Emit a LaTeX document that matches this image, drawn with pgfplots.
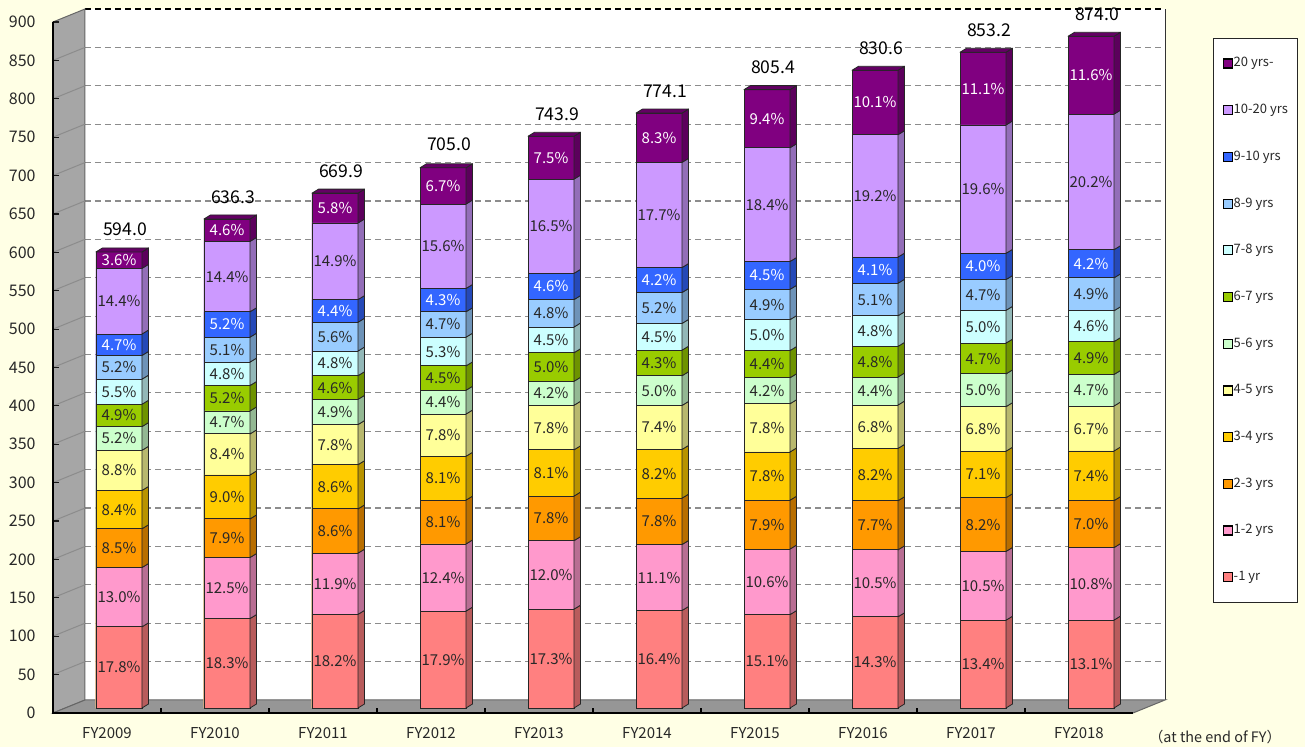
\documentclass[border=0pt]{standalone}
\usepackage{pgfplots}
\pgfplotsset{compat=1.18}
\usepackage{pgfplotstable}
\usepackage{fontspec}
\setmainfont{Noto Sans CJK JP}
\pgfdeclareplotmark{empty}{}

\definecolor{bgc}{RGB}{255,255,229}
\definecolor{wallgray}{RGB}{166,166,166}
\definecolor{floorgray}{RGB}{150,150,150}
\definecolor{cA}{RGB}{255,128,128}
\definecolor{cB}{RGB}{255,153,204}
\definecolor{cC}{RGB}{255,153,0}
\definecolor{cD}{RGB}{255,204,0}
\definecolor{cE}{RGB}{255,255,153}
\definecolor{cF}{RGB}{204,255,204}
\definecolor{cG}{RGB}{153,204,0}
\definecolor{cH}{RGB}{204,255,255}
\definecolor{cI}{RGB}{153,204,255}
\definecolor{cJ}{RGB}{51,102,255}
\definecolor{cK}{RGB}{204,153,255}
\definecolor{cL}{RGB}{128,0,128}
\definecolor{txt}{RGB}{40,40,40}

% x, total (billions), share (%) of each maturity band, bottom (-1 yr) to top (20 yrs-)
\pgfplotstableread{
x total p1 p2 p3 p4 p5 p6 p7 p8 p9 p10 p11 p12
0 594.0 17.8 13.0 8.5 8.4 8.8 5.2 4.9 5.5 5.2 4.7 14.4 3.6
1 636.3 18.3 12.5 7.9 9.0 8.4 4.7 5.2 4.8 5.1 5.2 14.4 4.6
2 669.9 18.2 11.9 8.6 8.6 7.8 4.9 4.6 4.8 5.6 4.4 14.9 5.8
3 705.0 17.9 12.4 8.1 8.1 7.8 4.4 4.5 5.3 4.7 4.3 15.6 6.7
4 743.9 17.3 12.0 7.8 8.1 7.8 4.2 5.0 4.5 4.8 4.6 16.5 7.5
5 774.1 16.4 11.1 7.8 8.2 7.4 5.0 4.3 4.5 5.2 4.2 17.7 8.3
6 805.4 15.1 10.6 7.9 7.8 7.8 4.2 4.4 5.0 4.9 4.5 18.4 9.4
7 830.6 14.3 10.5 7.7 8.2 6.8 4.4 4.8 4.8 5.1 4.1 19.2 10.1
8 853.2 13.4 10.5 8.2 7.1 6.8 5.0 4.7 5.0 4.7 4.0 19.6 11.1
9 874.0 13.1 10.8 7.0 7.4 6.7 4.7 4.9 4.6 4.9 4.2 20.2 11.6
}\data

\pgfplotstablecreatecol[create col/expr={\thisrow{total}*\thisrow{p1}/100}]{h1}\data
\pgfplotstablecreatecol[create col/expr={\thisrow{total}*\thisrow{p2}/100}]{h2}\data
\pgfplotstablecreatecol[create col/expr={\thisrow{total}*\thisrow{p3}/100}]{h3}\data
\pgfplotstablecreatecol[create col/expr={\thisrow{total}*\thisrow{p4}/100}]{h4}\data
\pgfplotstablecreatecol[create col/expr={\thisrow{total}*\thisrow{p5}/100}]{h5}\data
\pgfplotstablecreatecol[create col/expr={\thisrow{total}*\thisrow{p6}/100}]{h6}\data
\pgfplotstablecreatecol[create col/expr={\thisrow{total}*\thisrow{p7}/100}]{h7}\data
\pgfplotstablecreatecol[create col/expr={\thisrow{total}*\thisrow{p8}/100}]{h8}\data
\pgfplotstablecreatecol[create col/expr={\thisrow{total}*\thisrow{p9}/100}]{h9}\data
\pgfplotstablecreatecol[create col/expr={\thisrow{total}*\thisrow{p10}/100}]{h10}\data
\pgfplotstablecreatecol[create col/expr={\thisrow{total}*\thisrow{p11}/100}]{h11}\data
\pgfplotstablecreatecol[create col/expr={\thisrow{total}*\thisrow{p12}/100}]{h12}\data
\pgfplotstablecreatecol[create col/expr={\thisrow{h1}}]{c1}\data
\pgfplotstablecreatecol[create col/expr={\thisrow{c1}+\thisrow{h2}}]{c2}\data
\pgfplotstablecreatecol[create col/expr={\thisrow{c2}+\thisrow{h3}}]{c3}\data
\pgfplotstablecreatecol[create col/expr={\thisrow{c3}+\thisrow{h4}}]{c4}\data
\pgfplotstablecreatecol[create col/expr={\thisrow{c4}+\thisrow{h5}}]{c5}\data
\pgfplotstablecreatecol[create col/expr={\thisrow{c5}+\thisrow{h6}}]{c6}\data
\pgfplotstablecreatecol[create col/expr={\thisrow{c6}+\thisrow{h7}}]{c7}\data
\pgfplotstablecreatecol[create col/expr={\thisrow{c7}+\thisrow{h8}}]{c8}\data
\pgfplotstablecreatecol[create col/expr={\thisrow{c8}+\thisrow{h9}}]{c9}\data
\pgfplotstablecreatecol[create col/expr={\thisrow{c9}+\thisrow{h10}}]{c10}\data
\pgfplotstablecreatecol[create col/expr={\thisrow{c10}+\thisrow{h11}}]{c11}\data
\pgfplotstablecreatecol[create col/expr={\thisrow{c11}+\thisrow{h12}}]{c12}\data

\def\yu{0.383889}
\def\hw{11.5}
\def\dx{3.25}
\def\dy{2}
\newcommand\pctfont{\fontsize{7.5}{8}\selectfont}

% side face of each band (parallelogram right of the front face)
\newcommand{\sidefaces}[2]{%
 \addplot[forget plot, only marks, scatter, mark=empty,
   visualization depends on={\thisrow{h#1} \as \segh},
   scatter/@pre marker code/.code={%
     \pgfmathsetmacro\hh{\segh*\yu}%
     \filldraw[fill=#2!72!black, draw=black!85, line width=0.4pt, line join=round]
       (\hw pt,0pt) -- ({(\hw+\dx)*1pt},\dy pt) -- ({(\hw+\dx)*1pt},{(\dy-\hh)*1pt}) -- (\hw pt,-\hh pt) -- cycle;
   },
   scatter/@post marker code/.code={}]
   table[x=x, y=c#1] {\data};
}
% front face of each band, drawn from 0 up to the cumulative value
\newcommand{\frontbar}[4]{%
 \addplot[ybar, bar width=23pt, bar shift=0pt, fill=#2, draw=black!85, line width=0.45pt,
   legend image code/.code={\draw[fill=#2, draw=black, line width=0.6pt] (0pt,-2.25pt) rectangle (4.5pt,2.25pt);},
   nodes near coords={\pgfplotspointmeta\%}, point meta=explicit symbolic,
   visualization depends on={\thisrow{h#1} \as \segh},
   every node near coord/.append style={anchor=center, yshift={-0.5*\segh*\yu pt}, text=#3, font=\pctfont, inner sep=0pt}]
   table[x=x, y=c#1, meta=p#1] {\data};
 \addlegendentry{#4}
}

\begin{document}
\begin{tikzpicture}
\fill[bgc] (0,0) rectangle (652.5pt,373.5pt);
\begin{axis}[
  at={(32.5pt,19.5pt)}, anchor=south west,
  scale only axis, width=540pt, height=345.5pt,
  xmin=-0.5, xmax=9.5, ymin=0, ymax=900, clip=false,
  axis line style={draw=none}, major tick style={draw=none},
  xtick={0,1,2,3,4,5,6,7,8,9},
  xticklabels={FY2009,FY2010,FY2011,FY2012,FY2013,FY2014,FY2015,FY2016,FY2017,FY2018},
  ytick={0,50,100,150,200,250,300,350,400,450,500,550,600,650,700,750,800,850,900},
  /pgf/number format/assume math mode=true,
  yticklabel style={font=\fontsize{8}{9}\selectfont, inner sep=0pt, anchor=east, xshift=-14.5pt, yshift=-2.5pt, text=txt},
  xticklabel style={font=\fontsize{7.5}{9}\selectfont, inner sep=0pt, anchor=center, xshift=-6pt, yshift=-12.5pt, text=txt},
  legend style={at={(axis description cs:1.063,0.9696)}, anchor=north west, draw=black!85, line width=0.5pt, fill=white,
     font=\fontsize{6.5}{7}\selectfont, row sep=16.35pt, inner xsep=4.5pt, inner ysep=9pt,
     nodes={inner sep=0.5pt, text height=4.7pt, text depth=1.3pt, text=txt}},
  legend cell align=left,
]
% back wall
\fill[white] ([xshift=10pt,yshift=4pt]axis cs:-0.5,0) rectangle ([xshift=10pt,yshift=4pt]axis cs:9.5,900);
\pgfplotsinvokeforeach{50,100,150,200,250,300,350,400,450,500,550,600,650,700,750,800,850}{
  \draw[black!45, dash pattern=on 3pt off 2pt, line width=0.6pt] ([xshift=10pt,yshift=4pt]axis cs:-0.5,#1) -- ([xshift=10pt,yshift=4pt]axis cs:9.5,#1);
}
\draw[black, dash pattern=on 3pt off 2pt, line width=0.6pt] ([xshift=10pt,yshift=4pt]axis cs:-0.5,900) -- ([xshift=10pt,yshift=4pt]axis cs:9.5,900);
\draw[black!80, line width=0.5pt] ([xshift=10pt,yshift=4pt]axis cs:9.5,0) -- ([xshift=10pt,yshift=4pt]axis cs:9.5,900);
% left wall
\filldraw[fill=wallgray, draw=black!60, line width=0.5pt] ([xshift=-6pt,yshift=-2.5pt]axis cs:-0.5,0) -- ([xshift=-6pt,yshift=-2.5pt]axis cs:-0.5,900) -- ([xshift=10pt,yshift=4pt]axis cs:-0.5,900) -- ([xshift=10pt,yshift=4pt]axis cs:-0.5,0) -- cycle;
\pgfplotsinvokeforeach{50,100,150,200,250,300,350,400,450,500,550,600,650,700,750,800,850}{
  \draw[black!45, line width=0.5pt] ([xshift=-6pt,yshift=-2.5pt]axis cs:-0.5,#1) -- ([xshift=10pt,yshift=4pt]axis cs:-0.5,#1);
  \draw[black!90, line width=0.6pt] ([xshift=-6pt,yshift=-2.5pt]axis cs:-0.5,#1) -- ([xshift=-3pt,yshift=-2.5pt]axis cs:-0.5,#1);
}
\draw[black!90, line width=0.6pt] ([xshift=-6pt,yshift=-2.5pt]axis cs:-0.5,900) -- ([xshift=-3pt,yshift=-2.5pt]axis cs:-0.5,900);
% floor
\filldraw[fill=floorgray, draw=black!60, line width=0.5pt] ([xshift=-6pt,yshift=-2.5pt]axis cs:-0.5,0) -- ([xshift=-6pt,yshift=-2.5pt]axis cs:9.5,0) -- ([xshift=10pt,yshift=4pt]axis cs:9.5,0) -- ([xshift=10pt,yshift=4pt]axis cs:-0.5,0) -- cycle;
\draw[black, line width=0.8pt] ([xshift=-6pt,yshift=-2.5pt]axis cs:-0.5,900) -- ([xshift=-6pt,yshift=-2.5pt]axis cs:-0.5,0) -- ([xshift=-6pt,yshift=-2.5pt]axis cs:9.5,0);
\pgfplotsinvokeforeach{0.5,1.5,2.5,3.5,4.5,5.5,6.5,7.5,8.5}{
  \draw[black, line width=0.6pt] ([xshift=-6pt,yshift=-2.5pt]axis cs:#1,0) -- ([xshift=-6pt,yshift=0pt]axis cs:#1,0);
}

% side faces
\sidefaces{1}{cA}
\sidefaces{2}{cB}
\sidefaces{3}{cC}
\sidefaces{4}{cD}
\sidefaces{5}{cE}
\sidefaces{6}{cF}
\sidefaces{7}{cG}
\sidefaces{8}{cH}
\sidefaces{9}{cI}
\sidefaces{10}{cJ}
\sidefaces{11}{cK}
\sidefaces{12}{cL}
% top face
\addplot[forget plot, only marks, scatter, mark=empty,
  scatter/@pre marker code/.code={\filldraw[fill=cL!78!black, draw=black!85, line width=0.4pt, line join=round] (-\hw pt,0pt) -- ({(-\hw+\dx)*1pt},\dy pt) -- ({(\hw+\dx)*1pt},\dy pt) -- (\hw pt,0pt) -- cycle;},
  scatter/@post marker code/.code={}] table[x=x, y=c12] {\data};

% front faces (legend order top to bottom)
\frontbar{12}{cL}{white}{20 yrs-}
\frontbar{11}{cK}{txt}{10-20 yrs}
\frontbar{10}{cJ}{white}{9-10 yrs}
\frontbar{9}{cI}{txt}{8-9 yrs}
\frontbar{8}{cH}{txt}{7-8 yrs}
\frontbar{7}{cG}{txt}{6-7 yrs}
\frontbar{6}{cF}{txt}{5-6 yrs}
\frontbar{5}{cE}{txt}{4-5 yrs}
\frontbar{4}{cD}{txt}{3-4 yrs}
\frontbar{3}{cC}{txt}{2-3 yrs}
\frontbar{2}{cB}{txt}{1-2 yrs}
\frontbar{1}{cA}{txt}{-1 yr}

% totals
\addplot[forget plot, draw=none, nodes near coords={\pgfplotspointmeta}, point meta=explicit symbolic,
  every node near coord/.append style={anchor=center, xshift=3pt, yshift=11.25pt, font=\fontsize{8.8}{10}\selectfont, text=black, inner sep=0pt}]
  table[x=x, y=total, meta=total] {\data};

\node[font=\fontsize{7.2}{8}\selectfont, text=txt] at ([yshift=-14.5pt]axis cs:10.148,0) {（at the end of FY）};
\end{axis}
\pgfresetboundingbox
\useasboundingbox (0,0) rectangle (652.5pt,373.5pt);
\end{tikzpicture}
\end{document}
